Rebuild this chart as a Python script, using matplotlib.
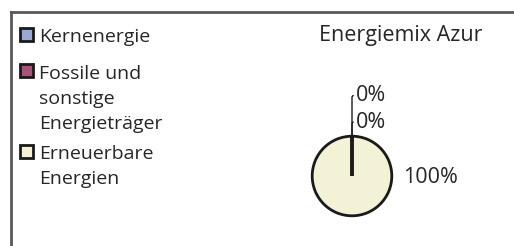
import matplotlib.pyplot as plt
from matplotlib.patches import Rectangle

plt.rcParams['font.family'] = ['Open Sans', 'DejaVu Sans']

# data
categories = ["Kernenergie", "Fossile und\nsonstige\nEnergieträger", "Erneuerbare\nEnergien"]
shares = [0, 0, 100]
colors = ["#9ba7d6", "#a8527c", "#f3f1d6"]
title = "Energiemix Azur"

W, H = 514, 246
fig = plt.figure(figsize=(W / 100, H / 100), dpi=100)
ax = fig.add_axes([0, 0, 1, 1])

# pie in pixel coordinates (y up)
cx, cy, r = 352, H - 176, 39.8
wedges, _ = ax.pie(shares, colors=colors, startangle=90, counterclock=False,
                   center=(cx, cy), radius=r, frame=True,
                   wedgeprops=dict(edgecolor="#1a1a1a", linewidth=2))
# zero slices show up as a radius line on top of the full slice
for v, w in zip(shares, wedges):
    if v == 0:
        w.set_zorder(5)
        w.set_linewidth(2.5)
ax.set_xlim(0, W)
ax.set_ylim(0, H)
ax.set_aspect("equal")
ax.axis("off")

tc = "#262626"
fs_leg = 14
fs_lab = 15.5
# labels
top = (cx, cy + r)
label_pos = [(356, H - 93), (356, H - 119.5), (403, H - 175)]
for v, pos in zip(shares, label_pos):
    txt = f"{v:.0f}%"
    if v == 0:
        ax.annotate(txt, xy=top, xytext=pos, ha="left", va="center_baseline",
                    fontsize=fs_lab, color=tc,
                    arrowprops=dict(arrowstyle="-", color="#1a1a1a", lw=1,
                                    shrinkA=0, shrinkB=0,
                                    connectionstyle="angle,angleA=0,angleB=90,rad=2"))
    else:
        ax.text(pos[0], pos[1], txt, ha="left", va="center_baseline", fontsize=fs_lab, color=tc)

ax.text(401, H - 41, title, ha="center", va="baseline", fontsize=fs_lab, color=tc)

# legend drawn by hand (va=baseline uses the last line, so shift down)
leg_base = [41.7, 78.3, 159]
gap = 25.3
for lab, c, b in zip(categories, colors, leg_base):
    ax.add_patch(Rectangle((19.5, H - b + 1), 13, 13, facecolor=c, edgecolor="#1a1a1a", lw=2))
    last = b + gap * lab.count("\n")
    ax.text(39, H - last, lab, ha="left", va="baseline", fontsize=fs_leg, color=tc, linespacing=1.5)

# outer frame (only top and left visible)
ax.plot([11, W], [H - 12, H - 12], color="#5a5a5a", lw=2)
ax.plot([11, 11], [H - 12, 0], color="#5a5a5a", lw=2)

fig.savefig("out.png", dpi=100)
